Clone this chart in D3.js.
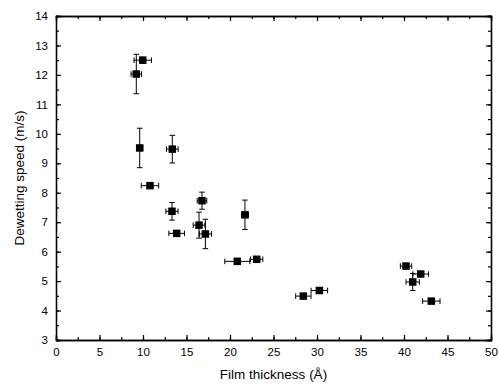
<!DOCTYPE html>
<html><head><meta charset="utf-8">
<script src="https://cdn.jsdelivr.net/npm/d3@7"></script>
<style>body{margin:0;background:#fff}svg{display:block}text{font-family:"Liberation Sans",Arial,sans-serif}</style>
</head><body><svg id="c" width="499" height="387"></svg>
<script>
const thickness = [9.97, 9.23, 9.62, 13.37, 10.8, 13.33, 13.87, 16.78, 16.44, 17.17, 21.72, 20.84, 23.07, 28.43, 30.27, 40.23, 41.92, 41.0, 43.14];
const speed     = [12.5, 12.03, 9.52, 9.48, 8.24, 7.37, 6.62, 7.73, 6.9, 6.6, 7.25, 5.67, 5.74, 4.49, 4.68, 5.51, 5.24, 4.97, 4.32];
const thickErr  = [1.0, 0.6, 0.35, 0.67, 1.0, 0.7, 0.9, 0.55, 0.67, 0.7, 0.4, 1.44, 0.7, 0.88, 0.95, 0.65, 0.9, 0.77, 1.0];
const speedErr  = [0.1, 0.67, 0.67, 0.47, 0.08, 0.3, 0.08, 0.29, 0.44, 0.5, 0.5, 0.08, 0.08, 0.08, 0.08, 0.08, 0.08, 0.29, 0.08];
const xTicks = [0,5,10,15,20,25,30,35,40,45,50];
const yTicks = [3,4,5,6,7,8,9,10,11,12,13,14];
const xTitle = "Film thickness (Å)";
const yTitle = "Dewetting speed (m/s)";

const svg = d3.select("#c");
const L=56, R=491, T=16, B=340;
const x = d3.scaleLinear().domain([0,50]).range([L,R]);
const y = d3.scaleLinear().domain([3,14]).range([B,T]);

const xMinor = d3.range(0,50.01,2.5), yMinor = d3.range(3,14.01,0.5);
const g = svg.append("g");
g.append("g").attr("transform",`translate(0,${B})`).call(d3.axisBottom(x).tickValues(xTicks).tickSize(-5).tickPadding(8).tickFormat(d3.format("d")));
g.append("g").attr("transform",`translate(0,${B})`).call(d3.axisBottom(x).tickValues(xMinor).tickSize(-3).tickFormat(""));
g.append("g").attr("transform",`translate(0,${T})`).call(d3.axisTop(x).tickValues(xTicks).tickSize(-5).tickFormat(""));
g.append("g").attr("transform",`translate(0,${T})`).call(d3.axisTop(x).tickValues(xMinor).tickSize(-3).tickFormat(""));
g.append("g").attr("transform",`translate(${L},0)`).call(d3.axisLeft(y).tickValues(yTicks).tickSize(-5).tickPadding(8).tickFormat(d3.format("d")));
g.append("g").attr("transform",`translate(${L},0)`).call(d3.axisLeft(y).tickValues(yMinor).tickSize(-3).tickFormat(""));
g.append("g").attr("transform",`translate(${R},0)`).call(d3.axisRight(y).tickValues(yTicks).tickSize(-5).tickFormat(""));
g.append("g").attr("transform",`translate(${R},0)`).call(d3.axisRight(y).tickValues(yMinor).tickSize(-3).tickFormat(""));
g.selectAll(".domain").attr("stroke","#000").attr("stroke-width",1.3);
g.selectAll(".tick line").attr("stroke","#000").attr("stroke-width",1.2);
g.selectAll(".tick text").attr("font-size",11.5).attr("fill","#000").attr("font-family","Liberation Sans, Arial, sans-serif");

svg.append("text").attr("x",(L+R)/2).attr("y",379).attr("text-anchor","middle").attr("font-size",13.5).text(xTitle);
svg.append("text").attr("transform",`translate(24,${(T+B)/2}) rotate(-90)`).attr("text-anchor","middle").attr("font-size",13.5).text(yTitle);

const data = thickness.map((d,i)=>({x:d,y:speed[i],ex:thickErr[i],ey:speedErr[i]}));
const cap=2.8;
const eb = svg.append("g").attr("stroke","#000").attr("stroke-width",1);
data.forEach(d=>{
  eb.append("line").attr("x1",x(d.x-d.ex)).attr("x2",x(d.x+d.ex)).attr("y1",y(d.y)).attr("y2",y(d.y));
  [d.x-d.ex,d.x+d.ex].forEach(v=>eb.append("line").attr("x1",x(v)).attr("x2",x(v)).attr("y1",y(d.y)-cap).attr("y2",y(d.y)+cap));
  eb.append("line").attr("x1",x(d.x)).attr("x2",x(d.x)).attr("y1",y(d.y-d.ey)).attr("y2",y(d.y+d.ey));
  [d.y-d.ey,d.y+d.ey].forEach(v=>eb.append("line").attr("y1",y(v)).attr("y2",y(v)).attr("x1",x(d.x)-cap).attr("x2",x(d.x)+cap));
});
const s=7.5;
svg.append("g").selectAll("rect").data(data).join("rect")
  .attr("x",d=>x(d.x)-s/2).attr("y",d=>y(d.y)-s/2).attr("width",s).attr("height",s).attr("fill","#000");
</script></body></html>
